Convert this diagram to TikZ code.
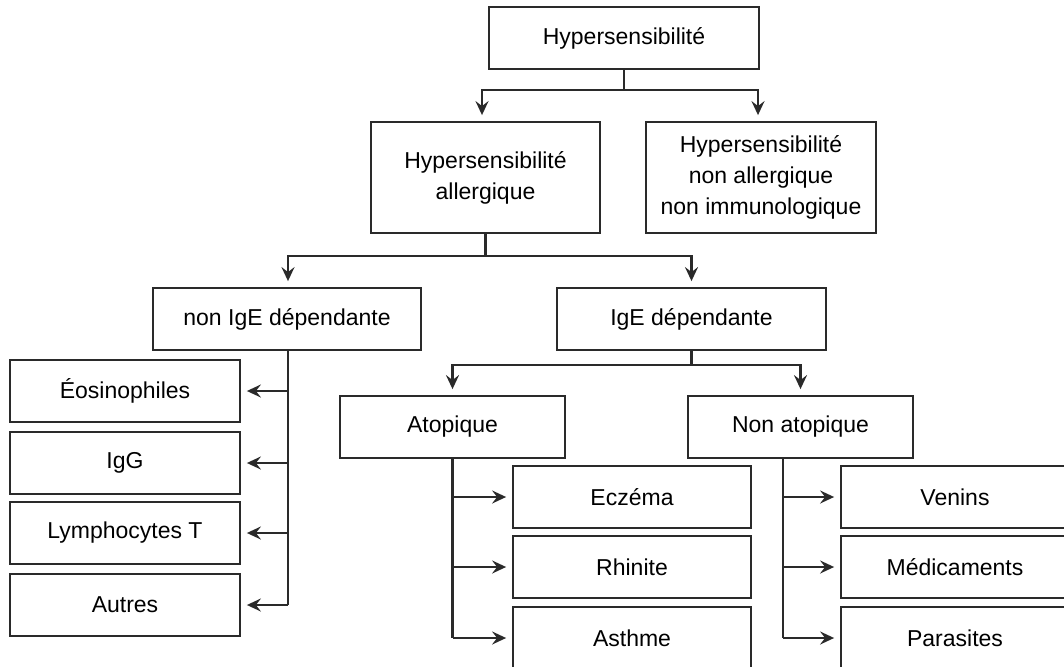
\documentclass[tikz,border=0pt]{standalone}
\usepackage{fontspec}
\setmainfont{Liberation Sans}
\usetikzlibrary{arrows.meta}
\definecolor{ink}{HTML}{2A2A2A}
\begin{document}
\begin{tikzpicture}[x=1pt,y=-1pt,
  box/.style={draw=ink,line width=1.8pt,inner sep=0pt,align=center,text=black,
    font=\fontsize{23}{31}\selectfont},
  link/.style={draw=ink,line width=2.2pt},
  arr/.style={link,-{Stealth[length=14pt,width=13pt,inset=5pt]},shorten >=6pt}]
\useasboundingbox (0,0) rectangle (1064,666);
\clip (0,0) rectangle (1064,666);
\fill[white] (0,0) rectangle (1064,666);
% level 1
\node[box,minimum width=270pt,minimum height=62pt] (top) at (624,38) {Hypersensibilité};
% level 2
\node[box,minimum width=229pt,minimum height=111pt] (allerg) at (485.5,177.5) {Hypersensibilité\\allergique};
\node[box,minimum width=230pt,minimum height=111pt] (nonall) at (761,177.5) {Hypersensibilité\\non allergique\\non immunologique};
% level 3
\node[box,minimum width=268pt,minimum height=62pt] (nonige) at (287,319) {non IgE dépendante};
\node[box,minimum width=269pt,minimum height=62pt] (ige) at (691.5,319) {IgE dépendante};
% left column
\node[box,minimum width=230pt,minimum height=62pt] (eos) at (125,391) {Éosinophiles};
\node[box,minimum width=230pt,minimum height=62pt] (igg) at (125,463) {IgG};
\node[box,minimum width=230pt,minimum height=62pt] (lym) at (125,533) {Lymphocytes T};
\node[box,minimum width=230pt,minimum height=62pt] (aut) at (125,605) {Autres};
% level 4
\node[box,minimum width=225pt,minimum height=62pt] (atop) at (452.5,427) {Atopique};
\node[box,minimum width=225pt,minimum height=62pt] (nonatop) at (800.5,427) {Non atopique};
% atopique leaves
\node[box,minimum width=238pt,minimum height=62pt] (ecz) at (632,497) {Eczéma};
\node[box,minimum width=238pt,minimum height=62pt] (rhi) at (632,567) {Rhinite};
\node[box,minimum width=238pt,minimum height=62pt] (ast) at (632,638) {Asthme};
% non atopique leaves
\node[box,minimum width=228pt,minimum height=62pt] (ven) at (955,497) {Venins};
\node[box,minimum width=228pt,minimum height=62pt] (med) at (955,567) {Médicaments};
\node[box,minimum width=228pt,minimum height=62pt] (par) at (955,638) {Parasites};
% junctions
\path (top.south) ++(0,20) coordinate (j1);
\path (allerg.south) ++(0,22) coordinate (j2);
\path (ige.south) ++(0,14) coordinate (j3);
\path (nonige.south) ++(1,0) coordinate (t1);
\path (atop.south) coordinate (t2);
\path (nonatop.south) ++(-17.5,0) coordinate (t3);
% connectors
\draw[link] (top.south) -- (j1);
\draw[arr] (j1) -| ([xshift=-3.5pt]allerg.north);
\draw[arr] (j1) -| ([xshift=-3pt]nonall.north);
\draw[link] (allerg.south) -- (j2);
\draw[arr] (j2) -| ([xshift=1pt]nonige.north);
\draw[arr] (j2) -| (ige.north);
\draw[link] (t1) -- (t1 |- aut.east);
\draw[arr] (t1 |- eos.east) -- (eos.east);
\draw[arr] (t1 |- igg.east) -- (igg.east);
\draw[arr] (t1 |- lym.east) -- (lym.east);
\draw[arr] (t1 |- aut.east) -- (aut.east);
\draw[link] (ige.south) -- (j3);
\draw[arr] (j3) -| (atop.north);
\draw[arr] (j3) -| (nonatop.north);
\draw[link] (t2) -- (t2 |- ast.west);
\draw[arr] (t2 |- ecz.west) -- (ecz.west);
\draw[arr] (t2 |- rhi.west) -- (rhi.west);
\draw[arr] (t2 |- ast.west) -- (ast.west);
\draw[link] (t3) -- (t3 |- par.west);
\draw[arr] (t3 |- ven.west) -- (ven.west);
\draw[arr] (t3 |- med.west) -- (med.west);
\draw[arr] (t3 |- par.west) -- (par.west);
\end{tikzpicture}
\end{document}
